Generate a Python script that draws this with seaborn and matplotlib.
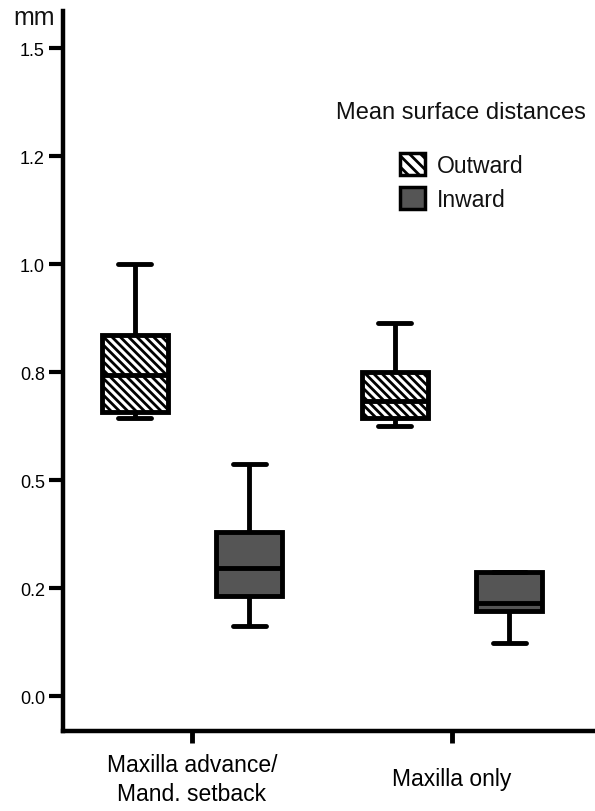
import numpy as np
import pandas as pd
import matplotlib
matplotlib.use("Agg")
import matplotlib.pyplot as plt
from matplotlib.patches import Patch
import seaborn as sns

# five-number summaries (min, q1, median, q3, max)
groups = ["Maxilla advance/\nMand. setback", "Maxilla only"]
directions = ["Outward", "Inward"]
outward_adv = [0.644, 0.657, 0.743, 0.836, 1.000]
inward_adv = [0.162, 0.231, 0.296, 0.380, 0.537]
outward_max = [0.625, 0.644, 0.683, 0.750, 0.863]
inward_max = [0.123, 0.197, 0.215, 0.287, 0.287]

ytick_vals = [0.0, 0.25, 0.5, 0.75, 1.0, 1.25, 1.5]
ytick_labels = ["0.0", "0.2", "0.5", "0.8", "1.0", "1.2", "1.5"]

rows = []
for g, d, vals in [(groups[0], "Outward", outward_adv), (groups[0], "Inward", inward_adv),
                   (groups[1], "Outward", outward_max), (groups[1], "Inward", inward_max)]:
    for v in vals:
        rows.append({"group": g, "direction": d, "value": v})
df = pd.DataFrame(rows)

sns.set_style("ticks", {"axes.edgecolor": "black", "xtick.color": "black",
                        "ytick.color": "black", "text.color": "#111111"})
plt.rcParams["font.family"] = ["Liberation Sans", "DejaVu Sans"]
plt.rcParams["hatch.linewidth"] = 2.0

fig = plt.figure(figsize=(5.95, 8.12), dpi=100)
ax = fig.add_axes([63 / 595, 80 / 812, (595 - 63) / 595, 720 / 812])

sns.boxplot(data=df, x="group", y="value", hue="direction", order=groups,
            hue_order=directions, palette={"Outward": "white", "Inward": "#555555"},
            linecolor="black", linewidth=3.5, width=0.88, gap=0.42,
            whis=(0, 100), legend=False, ax=ax)

# hatch the outward boxes
for p in ax.patches:
    fc = p.get_facecolor()
    if fc[0] > 0.9:
        p.set_hatch("\\\\\\\\")
        p.set_edgecolor("black")

ax.set_xlim(-0.496, 1.55)
ax.set_ylim(-0.081, 1.586)
ax.set_yticks(ytick_vals)
ax.set_yticklabels(ytick_labels)
ax.set_xlabel("")
ax.set_ylabel("")
sns.despine(ax=ax)
for s in ["left", "bottom"]:
    ax.spines[s].set_linewidth(3.2)
ax.tick_params(axis="y", length=10, width=3, labelsize=13, pad=3)
ax.tick_params(axis="x", length=8.5, width=3.5, labelsize=16.5, pad=26)
for lab in ax.get_xticklabels():
    lab.set_va("center")
    lab.set_linespacing(1.3)

fig.text(13 / 595, 1 - 18 / 812, "mm", fontsize=18, ha="left", va="center")
fig.text(461 / 595, 1 - 113 / 812, "Mean surface distances", fontsize=17,
         ha="center", va="center")

handles = [Patch(facecolor="white", edgecolor="black", hatch="\\\\\\", linewidth=2.5, label="Outward"),
           Patch(facecolor="#555555", edgecolor="black", linewidth=2.5, label="Inward")]
leg = ax.legend(handles=handles, frameon=False, fontsize=16.5, loc="upper left",
                bbox_to_anchor=(400 / 595, 1 - 154 / 812), bbox_transform=fig.transFigure,
                handlelength=1.1, handleheight=1.1, labelspacing=0.45,
                handletextpad=0.5, borderpad=0.0, borderaxespad=0.0)

fig.savefig("out.png", dpi=100)
